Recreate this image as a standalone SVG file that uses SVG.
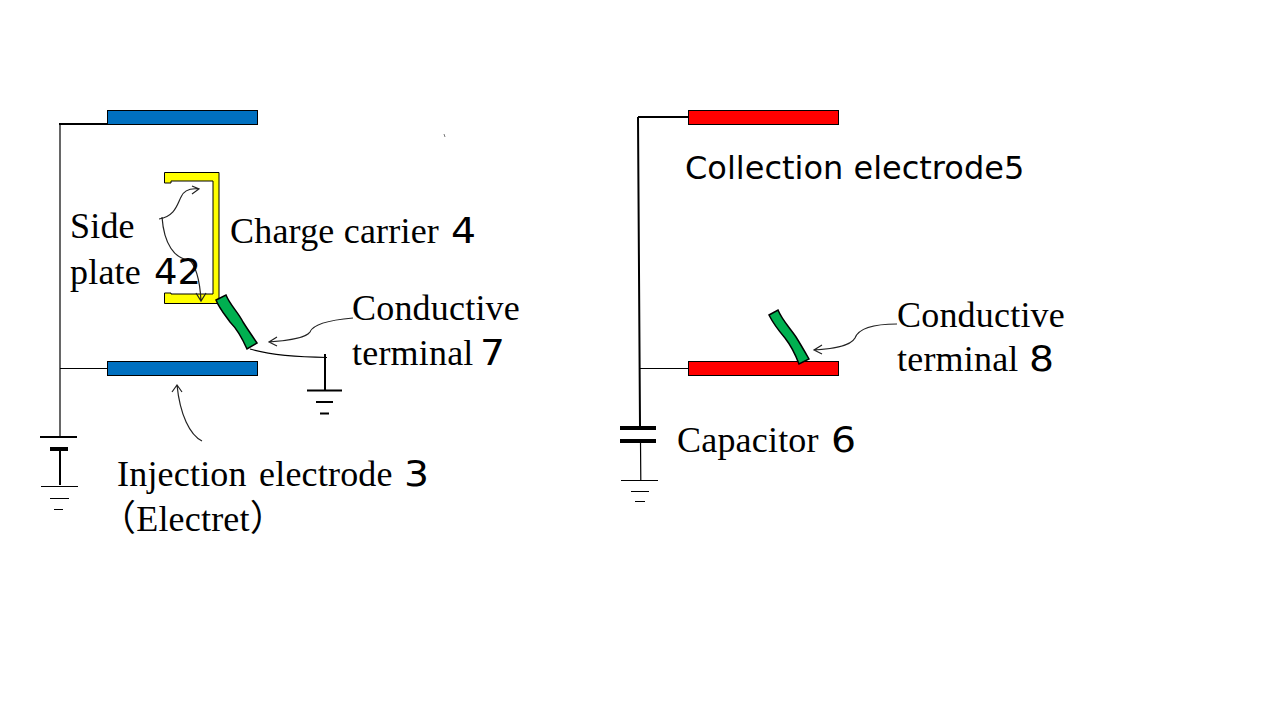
<svg xmlns="http://www.w3.org/2000/svg" width="1280" height="720" viewBox="0 0 1280 720">
<style>
text{font-family:"Liberation Serif","Noto Sans CJK JP",serif;font-size:36px;fill:#000;letter-spacing:.2px}
.g{font-family:"DejaVu Sans","Liberation Sans",sans-serif;letter-spacing:0}
.cg{font-family:"DejaVu Sans","Liberation Sans",sans-serif;font-size:32px;letter-spacing:0}
.w{fill:none;stroke:#000;stroke-width:1.2}
.thin{fill:none;stroke:#222;stroke-width:1.2}
.t{fill:none;stroke:#000;stroke-width:2}
.b{fill:#0070c0;stroke:#000;stroke-width:1}
.r{fill:#ff0000;stroke:#000;stroke-width:1}
.gr{fill:#00b050;stroke:#000;stroke-width:1.5}
</style>
<rect width="1280" height="720" fill="#fff"/>
<g id="injection-top"><rect class="b" x="107.500" y="110.500" width="150" height="14"/></g>
<g id="injection-bottom"><rect class="b" x="107.500" y="361.500" width="150" height="14"/></g>
<g id="carrier"><path d="M164.500 172.500H219V303.500H164.500V293H171V294H213V181H171V183H164.500Z" fill="#ffff00" stroke="#000" stroke-width="1"/></g>
<g id="terminal-7"><path class="gr" d="M216 300L226 295C230 305 238 312 243 322C248 330 253 337 257 343L247 349C243 340 238 330 230 322C225 315 219 308 216 300Z"/></g>
<g id="collect-top"><rect class="r" x="688.500" y="110.500" width="150" height="14"/></g>
<g id="collect-bottom"><rect class="r" x="688.500" y="361.500" width="150" height="14"/></g>
<g id="terminal-8"><path class="gr" d="M769 315L778 310C782 320 790 328 796 337C801 345 805 352 809 359L799 364C796 356 792 347 785 338C779 331 773 323 769 315Z"/></g>
<g id="connectors">
<path class="w" d="M60 436V124"/><path class="t" d="M59 124H107"/><path class="w" d="M60 368.500H107"/>
<path class="t" d="M40 437H77"/><path d="M50 449H68" stroke="#000" stroke-width="4"/><path class="t" d="M60 449V485"/>
<path class="w" d="M41 486.500H78M50 498.500H69M54 509.500H63"/>
<path class="w" d="M250 349C270 355 295 357 327 357.500"/><path class="t" d="M325 354V390"/><path class="t" d="M307 390.500H342M316 402H333M320 413.500H329"/>
<path class="t" d="M638 117H688M638 117L640 426"/><path class="w" d="M640 368.500H688"/>
<path d="M620 428H656M620 441H656" stroke="#000" stroke-width="4"/>
<path class="w" d="M640.500 441L640.800 480M621 480.500H658M631 491.500H649M635 501.500H645"/>
<path class="thin" d="M159 219C175 216 177 205 181 197C184 190 191 188 199 189M192 186L199 189L192 194"/>
<path class="thin" d="M162 217C164 245 175 258 188 260C195 262 200 280 201 301M196 293L201 301L206 293"/>
<path class="thin" d="M353 318C330 320 313 324 310 332C306 338 285 341 269 342M277 337L269 342L277 346"/>
<path class="thin" d="M202 441C190 435 180 415 177 385M172 392L177 385L182 392"/>
<path class="thin" d="M897 324C870 324 858 330 855 338C850 347 830 349 814 350M822 345L814 350L822 354"/>
<path d="M444 134L445 137" stroke="#777" stroke-width="1" fill="none"/>
</g>
<g id="labels">
<text x="70" y="238">Side</text>
<text x="70" y="284">plate</text><text class="g" x="154" y="284" textLength="47" lengthAdjust="spacingAndGlyphs">42</text>
<text x="230" y="243">Charge carrier</text><text class="g" x="451" y="243" textLength="25" lengthAdjust="spacingAndGlyphs">4</text>
<text x="352" y="320">Conductive</text>
<text x="352" y="365">terminal</text><text class="g" x="480" y="365" textLength="25" lengthAdjust="spacingAndGlyphs">7</text>
<text x="117" y="486">Injection</text><text x="259" y="486">electrode</text><text class="g" x="404" y="486" textLength="25" lengthAdjust="spacingAndGlyphs">3</text>
<text x="100" y="531">（Electret）</text>
<text class="cg" x="685" y="179">Collection electrode5</text>
<text x="897" y="327">Conductive</text>
<text x="897" y="371">terminal</text><text class="g" x="1029" y="371" textLength="25" lengthAdjust="spacingAndGlyphs">8</text>
<text x="677" y="452">Capacitor</text><text class="g" x="831" y="452" textLength="25" lengthAdjust="spacingAndGlyphs">6</text>
</g>
</svg>
